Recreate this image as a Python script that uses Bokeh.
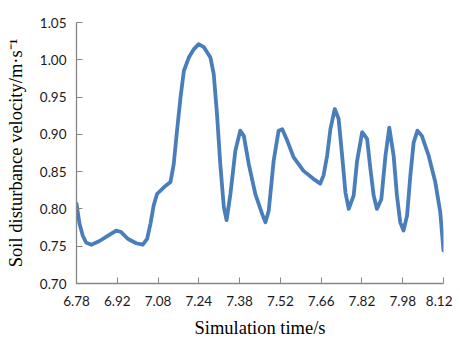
from bokeh.plotting import figure
from bokeh.models import FixedTicker, CustomJSTickFormatter, NumeralTickFormatter, Range1d
from bokeh.embed import file_html
from bokeh.resources import INLINE

# Category labels of the x axis (evenly spaced in the original)
x_labels = ["6.78", "6.92", "7.08", "7.24", "7.38", "7.52", "7.66", "7.82", "7.98", "8.12"]
t_start = 6.78
t_end = 8.12

# Simulation time (s) and soil disturbance velocity (m/s)
time = [6.780, 6.791, 6.803, 6.815, 6.834, 6.864, 6.894, 6.925, 6.943, 6.967,
        6.998, 7.022, 7.038, 7.050, 7.062, 7.074, 7.099, 7.123, 7.135, 7.147,
        7.160, 7.172, 7.190, 7.208, 7.226, 7.245, 7.269, 7.281, 7.293, 7.305,
        7.318, 7.328, 7.342, 7.360, 7.378, 7.391, 7.409, 7.433, 7.458, 7.470,
        7.482, 7.500, 7.518, 7.531, 7.549, 7.573, 7.609, 7.646, 7.670, 7.682,
        7.695, 7.707, 7.723, 7.737, 7.750, 7.762, 7.774, 7.792, 7.804, 7.823,
        7.841, 7.853, 7.865, 7.877, 7.893, 7.908, 7.922, 7.938, 7.950, 7.962,
        7.974, 7.987, 7.999, 8.011, 8.025, 8.041, 8.066, 8.090, 8.108, 8.120]
velocity = [0.807, 0.780, 0.764, 0.755, 0.752, 0.757, 0.764, 0.771, 0.769, 0.760,
            0.754, 0.752, 0.760, 0.780, 0.805, 0.820, 0.829, 0.836, 0.860, 0.905,
            0.950, 0.985, 1.003, 1.014, 1.021, 1.017, 1.003, 0.981, 0.927, 0.860,
            0.802, 0.785, 0.820, 0.878, 0.905, 0.898, 0.860, 0.820, 0.793, 0.782,
            0.798, 0.865, 0.905, 0.907, 0.892, 0.869, 0.851, 0.840, 0.834, 0.845,
            0.871, 0.907, 0.934, 0.921, 0.871, 0.822, 0.800, 0.818, 0.863, 0.903,
            0.894, 0.854, 0.818, 0.800, 0.813, 0.871, 0.909, 0.871, 0.818, 0.782,
            0.771, 0.791, 0.845, 0.889, 0.905, 0.898, 0.871, 0.836, 0.796, 0.744]

y_ticks = [0.70, 0.75, 0.80, 0.85, 0.90, 0.95, 1.00, 1.05]

p = figure(width=452, height=340, output_backend="svg", toolbar_location=None,
           x_range=Range1d(t_start, t_end), y_range=Range1d(0.70, 1.05),
           min_border_left=76, min_border_top=22, min_border_right=9, min_border_bottom=57)
p.outline_line_color = None
p.xgrid.visible = False
p.ygrid.visible = False
p.background_fill_color = "white"

p.line(time, velocity, line_color="#4a7ebb", line_width=3.8, line_join="round", line_cap="round")

step = (t_end - t_start) / (len(x_labels) - 1)
p.xaxis.ticker = FixedTicker(ticks=[t_start + i * step for i in range(len(x_labels))])
p.xaxis.formatter = CustomJSTickFormatter(args=dict(labels=x_labels, t0=t_start, step=step), code="""
    const i = Math.round((tick - t0) / step);
    return labels[i];
""")
p.yaxis.ticker = FixedTicker(ticks=y_ticks)
p.yaxis.formatter = NumeralTickFormatter(format="0.00")

for ax in (p.xaxis[0], p.yaxis[0]):
    ax.axis_line_color = "#868686"
    ax.axis_line_width = 1.3
    ax.major_tick_line_color = "#868686"
    ax.major_tick_in = 6
    ax.major_tick_out = 0
    ax.minor_tick_line_color = None
    ax.major_label_text_font = "Lato"
    ax.major_label_text_font_size = "13.5px"
    ax.major_label_text_color = "#1a1a1a"
    ax.axis_label_text_font = "Liberation Serif"
    ax.axis_label_text_font_size = "18.5px"
    ax.axis_label_text_font_style = "normal"
    ax.axis_label_text_color = "#000000"

p.xaxis.axis_label = "Simulation time/s"
p.yaxis.axis_label = "Soil disturbance velocity/m·s⁻¹"
p.xaxis.major_label_standoff = 12
p.xaxis.axis_label_standoff = 9
p.yaxis.major_label_standoff = 10
p.yaxis.axis_label_standoff = 11

open("out.html", "w").write(file_html(p, INLINE))
